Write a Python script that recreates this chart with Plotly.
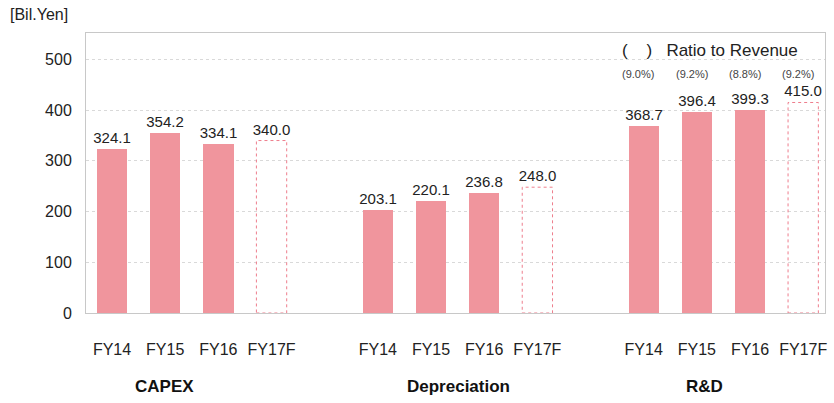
import plotly.graph_objects as go

# Data (billions of yen)
groups = ["CAPEX", "Depreciation", "R&D"]
years = ["FY14", "FY15", "FY16", "FY17F"]
capex = [324.1, 354.2, 334.1, 340.0]
depreciation = [203.1, 220.1, 236.8, 248.0]
rnd = [368.7, 396.4, 399.3, 415.0]
rnd_ratio = ["(9.0%)", "(9.2%)", "(8.8%)", "(9.2%)"]
forecast = [False, False, False, True]

series = [capex, depreciation, rnd]

FILL = "#f0959d"
EDGE = "#ee7d8c"
FONT = "Liberation Sans, Arial, sans-serif"
BAR_W = 0.57

# slot positions: four bars per group, one empty slot between groups
slot_step = len(years) + 1
xs, ys, texts, is_fc = [], [], [], []
tickvals, ticktext = [], []
for g, vals in enumerate(series):
    for i, v in enumerate(vals):
        x = g * slot_step + i
        xs.append(x)
        ys.append(v)
        texts.append(f"{v:.1f}")
        is_fc.append(forecast[i])
        tickvals.append(x)
        ticktext.append(years[i])

fig = go.Figure()

act = [k for k in range(len(xs)) if not is_fc[k]]
fc = [k for k in range(len(xs)) if is_fc[k]]

# actual results
fig.add_trace(go.Bar(
    x=[xs[k] for k in act], y=[ys[k] for k in act],
    text=[texts[k] for k in act], textposition="outside", constraintext="none",
    textfont=dict(family=FONT, size=15, color="#222"),
    marker=dict(color=FILL, line=dict(width=0)),
    width=BAR_W, cliponaxis=False, showlegend=False,
))
# forecasts: transparent bars carrying the labels, outlined by dotted rectangles
fig.add_trace(go.Bar(
    x=[xs[k] for k in fc], y=[ys[k] for k in fc],
    text=[texts[k] for k in fc], textposition="outside", constraintext="none",
    textfont=dict(family=FONT, size=15, color="#222"),
    marker=dict(color="rgba(255,255,255,0)", line=dict(width=0)),
    width=BAR_W, cliponaxis=False, showlegend=False,
))
for k in fc:
    fig.add_shape(type="rect", xref="x", yref="y",
                  x0=xs[k] - BAR_W / 2, x1=xs[k] + BAR_W / 2, y0=0, y1=ys[k],
                  line=dict(color=EDGE, width=1, dash="dot"),
                  fillcolor="rgba(0,0,0,0)", layer="above")

# ratio-to-revenue labels over the R&D bars
rnd_base = 2 * slot_step
for i, r in enumerate(rnd_ratio):
    fig.add_annotation(x=rnd_base + i - 0.1, y=0.852, xref="x", yref="paper",
                       text=r, showarrow=False, yanchor="middle",
                       font=dict(family=FONT, size=11, color="#444"))

# group captions
group_x = [0.98, 6.51, 11.14]
for gx, name in zip(group_x, groups):
    fig.add_annotation(x=gx, y=-0.262, xref="x", yref="paper",
                       text=f"<b>{name}</b>", showarrow=False, yanchor="middle",
                       font=dict(family=FONT, size=17, color="#111"))

# unit and ratio key
fig.add_annotation(x=-78 / 741, y=(313 - 14) / 280, xref="paper", yref="paper",
                   text="[Bil.Yen]", showarrow=False,
                   xanchor="left", yanchor="middle",
                   font=dict(family=FONT, size=16, color="#222"))
fig.add_annotation(x=0.722, y=(313 - 50) / 280, xref="paper", yref="paper",
                   text="(\u00a0\u00a0\u00a0\u00a0)\u00a0\u00a0\u00a0Ratio to Revenue",
                   showarrow=False, xanchor="left", yanchor="middle",
                   font=dict(family=FONT, size=17, color="#222"))

fig.update_layout(
    width=834, height=403,
    margin=dict(l=86, r=7, t=33, b=90),
    paper_bgcolor="white", plot_bgcolor="white",
    bargap=0,
    xaxis=dict(range=[-0.49, 13.41], tickvals=tickvals, ticktext=ticktext,
               ticks="outside", ticklen=22, tickcolor="rgba(0,0,0,0)",
               tickfont=dict(family=FONT, size=16, color="#222"),
               showgrid=False, zeroline=False,
               showline=True, linecolor="#c8c8c8", linewidth=1, mirror=True),
    yaxis=dict(range=[0, 552], tickvals=[0, 100, 200, 300, 400, 500],
               tickfont=dict(family=FONT, size=16, color="#222"),
               ticks="outside", ticklen=10, tickcolor="rgba(0,0,0,0)",
               showgrid=True, gridcolor="#d9d9d9", griddash="dot", gridwidth=1,
               zeroline=False,
               showline=True, linecolor="#c8c8c8", linewidth=1, mirror=True),
)

fig.write_html("out.html")
